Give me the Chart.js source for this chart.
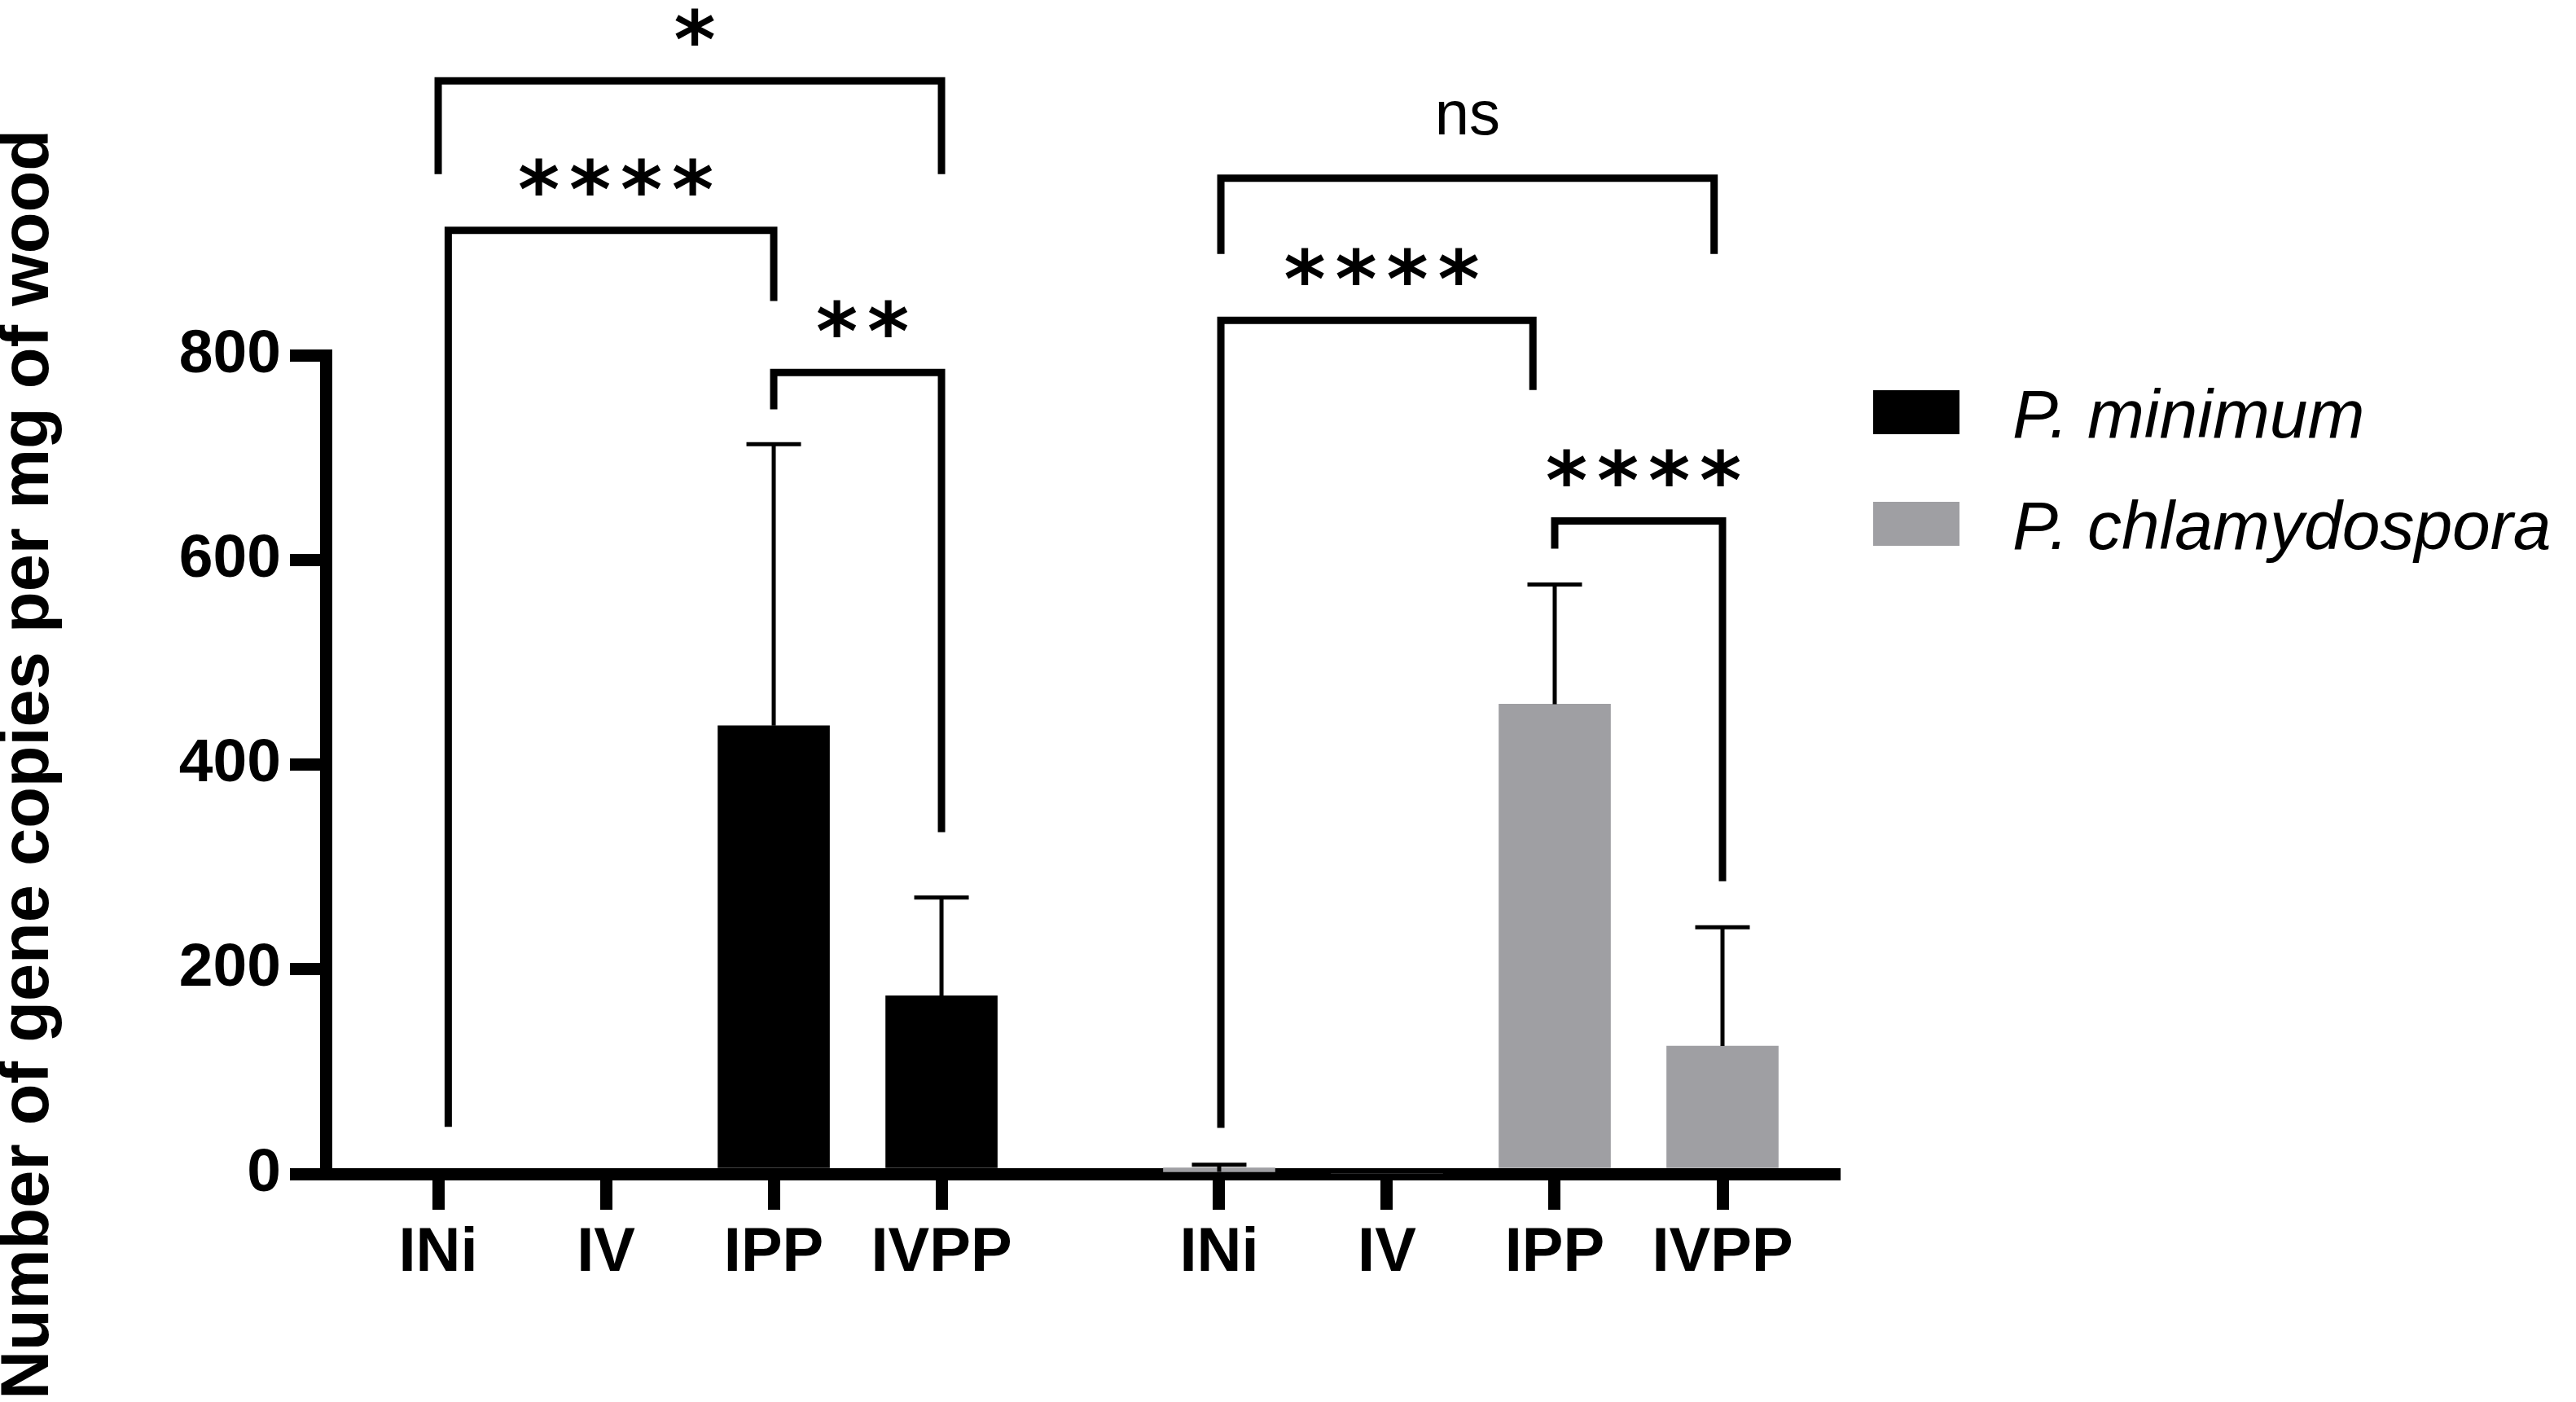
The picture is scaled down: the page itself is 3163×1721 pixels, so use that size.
<!DOCTYPE html>
<html>
<head>
<meta charset="utf-8">
<script src="https://cdn.jsdelivr.net/npm/chart.js@4.4.1/dist/chart.umd.min.js"></script>
<style>
    html, body { margin: 0; padding: 0; background: #fff; }
    #wrap { width: 3163px; height: 1721px; }
</style>
</head>
<body>
<div id="wrap"><canvas id="geneChart" width="3163" height="1721"></canvas></div>
<script>
const categories = ['INi', 'IV', 'IPP', 'IVPP'];
const seriesNames = ['P. minimum', 'P. chlamydospora'];
const minimumMeans = [0, 0, 438, 174];
const minimumSD = [0, 0, 275, 96];
const chlamMeans = [2, 0, 459, 125];
const chlamSD = [7, 0, 117, 116];
const seriesColors = ['#000000', '#9f9fa3'];
const yTicks = [0, 200, 400, 600, 800];
const groupGap = 0.655;

// significance brackets (one entry per bracket)
const bracketGroup = [0, 0, 0, 1, 1, 1];
const bracketFrom = [0, 0, 2, 0, 0, 2];
const bracketTo = [3, 2, 3, 3, 2, 3];
const bracketShiftL = [0, 0.06, 0, 0.01, 0.01, 0];
const bracketShiftR = [0, 0, 0, -0.05, -0.13, 0];
const bracketLevel = [1068, 922, 783, 973, 834, 638];
const bracketLeftEnd = [977, 46, 747, 899, 45, 611];
const bracketRightEnd = [977, 853, 334, 899, 766, 286];
const bracketLabel = ['*', '****', '**', 'ns', '****', '****'];

const fontFamily = '"Liberation Sans", Arial, Helvetica, sans-serif';
const starFamily = '"DejaVu Sans", "Liberation Sans", sans-serif';

function xPos(group, i) {
    return group * (categories.length + groupGap) + i;
}

const tickPositions = [0, 1].flatMap(g => categories.map((c, i) => xPos(g, i)));

const errorBars = {
    id: 'errorBars',
    afterDatasetsDraw(chart, args, opts) {
        const ctx = chart.ctx;
        const y = chart.scales.y;
        ctx.save();
        ctx.strokeStyle = opts.color;
        ctx.lineWidth = opts.lineWidth;
        chart.data.datasets.forEach((ds, d) => {
            const meta = chart.getDatasetMeta(d);
            meta.data.forEach((bar, i) => {
                const sd = ds.errors[i];
                if (!sd) return;
                const top = y.getPixelForValue(ds.data[i].y + sd);
                ctx.beginPath();
                ctx.moveTo(bar.x, bar.y);
                ctx.lineTo(bar.x, top);
                ctx.moveTo(bar.x - opts.capWidth / 2, top);
                ctx.lineTo(bar.x + opts.capWidth / 2, top);
                ctx.stroke();
            });
        });
        ctx.restore();
    }
};

const sigBrackets = {
    id: 'sigBrackets',
    afterDraw(chart, args, opts) {
        const ctx = chart.ctx;
        const { x, y } = chart.scales;
        ctx.save();
        ctx.strokeStyle = '#000';
        ctx.fillStyle = '#000';
        ctx.lineWidth = opts.lineWidth;
        ctx.lineJoin = 'miter';
        ctx.lineCap = 'butt';

        ctx.font = 'bold 100px ' + starFamily;
        const m = ctx.measureText('*');
        const starSize = 100 * opts.starHeight / (m.actualBoundingBoxAscent + m.actualBoundingBoxDescent);

        bracketLabel.forEach((label, b) => {
            const g = bracketGroup[b];
            const xl = x.getPixelForValue(xPos(g, bracketFrom[b]) + bracketShiftL[b]);
            const xr = x.getPixelForValue(xPos(g, bracketTo[b]) + bracketShiftR[b]);
            const yl = y.getPixelForValue(bracketLevel[b]);
            ctx.beginPath();
            ctx.moveTo(xl, y.getPixelForValue(bracketLeftEnd[b]));
            ctx.lineTo(xl, yl);
            ctx.lineTo(xr, yl);
            ctx.lineTo(xr, y.getPixelForValue(bracketRightEnd[b]));
            ctx.stroke();

            const cx = (xl + xr) / 2;
            ctx.textAlign = 'center';
            ctx.textBaseline = 'alphabetic';
            if (label === 'ns') {
                ctx.font = opts.nsSize + 'px ' + fontFamily;
                const t = ctx.measureText(label);
                const yc = yl - opts.nsOffset;
                ctx.fillText(label, cx, yc + (t.actualBoundingBoxAscent - t.actualBoundingBoxDescent) / 2);
            } else {
                ctx.font = 'bold ' + starSize + 'px ' + starFamily;
                const t = ctx.measureText('*');
                const yc = yl - opts.starOffset;
                const base = yc + (t.actualBoundingBoxAscent - t.actualBoundingBoxDescent) / 2;
                const n = label.length;
                for (let k = 0; k < n; k++) {
                    ctx.fillText('*', cx + opts.starShift + (k - (n - 1) / 2) * opts.starSpacing, base);
                }
            }
        });
        ctx.restore();
    }
};

const sideLegend = {
    id: 'sideLegend',
    afterDraw(chart, args, opts) {
        const ctx = chart.ctx;
        ctx.save();
        ctx.font = 'italic ' + opts.fontSize + 'px ' + fontFamily;
        ctx.textAlign = 'left';
        ctx.textBaseline = 'alphabetic';
        chart.data.datasets.forEach((ds, i) => {
            const top = opts.top + i * opts.rowGap;
            ctx.fillStyle = ds.backgroundColor;
            ctx.fillRect(opts.left, top, opts.boxWidth, opts.boxHeight);
            ctx.fillStyle = '#000';
            ctx.fillText(ds.label, opts.textLeft, top + opts.boxHeight + 4);
        });
        ctx.restore();
    }
};

Chart.defaults.font.family = fontFamily;
Chart.defaults.color = '#000';

const ctx = document.getElementById('geneChart').getContext('2d');

new Chart(ctx, {
    type: 'bar',
    data: {
        datasets: [
            {
                label: seriesNames[0],
                data: categories.map((c, i) => ({ x: xPos(0, i), y: minimumMeans[i] })),
                errors: minimumSD,
                backgroundColor: seriesColors[0]
            },
            {
                label: seriesNames[1],
                data: categories.map((c, i) => ({ x: xPos(1, i), y: chlamMeans[i] })),
                errors: chlamSD,
                backgroundColor: seriesColors[1]
            }
        ]
    },
    options: {
        responsive: false,
        animation: false,
        devicePixelRatio: 1,
        grouped: false,
        barThickness: 137,
        layout: {
            padding: { top: 436, right: 911, bottom: 130, left: 0 }
        },
        scales: {
            x: {
                type: 'linear',
                min: -0.67,
                max: xPos(1, 3) + 0.665,
                offset: false,
                afterBuildTicks: axis => {
                    axis.ticks = tickPositions.map(v => ({ value: v }));
                },
                afterFit: axis => { axis.height = 150; },
                ticks: {
                    autoSkip: false,
                    maxRotation: 0,
                    padding: 8,
                    color: '#000',
                    font: { size: 76, weight: 'bold' },
                    callback: (value, index) => categories[index % categories.length]
                },
                grid: {
                    offset: false,
                    drawOnChartArea: false,
                    lineWidth: 15,
                    tickLength: 44,
                    color: '#000'
                },
                border: { width: 15, color: '#000' }
            },
            y: {
                min: 0,
                max: 800,
                afterBuildTicks: axis => {
                    axis.ticks = yTicks.map(v => ({ value: v }));
                },
                afterFit: axis => { axis.width = 400; },
                ticks: {
                    padding: 11,
                    color: '#000',
                    font: { size: 75, weight: 'bold' }
                },
                grid: {
                    drawOnChartArea: false,
                    lineWidth: 15,
                    tickLength: 44,
                    color: '#000'
                },
                border: { width: 15, color: '#000' },
                title: {
                    display: true,
                    text: 'Number of gene copies per mg of wood',
                    color: '#000',
                    font: { size: 83, weight: 'bold', lineHeight: 0.87 },
                    padding: { top: 0, bottom: 0 }
                }
            }
        },
        plugins: {
            legend: { display: false },
            tooltip: { enabled: false },
            errorBars: { color: '#000', lineWidth: 5, capWidth: 67 },
            sigBrackets: {
                lineWidth: 9,
                starHeight: 46,
                starSpacing: 63,
                starOffset: 66,
                starShift: 6,
                nsSize: 76,
                nsOffset: 74
            },
            sideLegend: {
                left: 2300,
                top: 479,
                rowGap: 137,
                boxWidth: 106,
                boxHeight: 54,
                textLeft: 2471,
                fontSize: 84
            }
        }
    },
    plugins: [errorBars, sigBrackets, sideLegend]
});
</script>
</body>
</html>
